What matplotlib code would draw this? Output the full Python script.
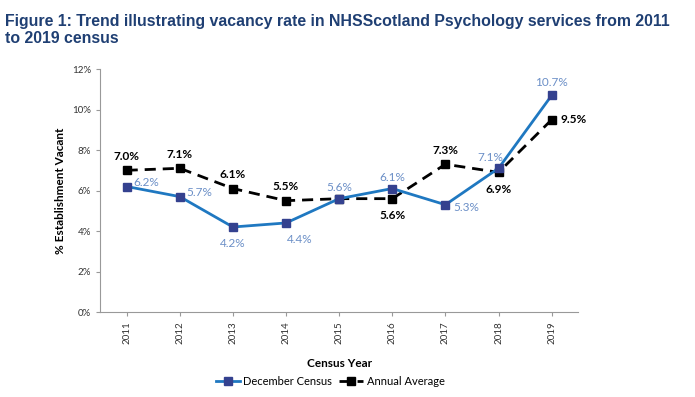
import matplotlib.pyplot as plt
import numpy as np

years = ['2011', '2012', '2013', '2014', '2015', '2016', '2017', '2018', '2019']
december = [6.2, 5.7, 4.2, 4.4, 5.6, 6.1, 5.3, 7.1, 10.7]
annual = [7.0, 7.1, 6.1, 5.5, 5.6, 5.6, 7.3, 6.9, 9.5]
yticks = [0, 2, 4, 6, 8, 10, 12]

# label offsets in points (None = no label shown)
dec_off = [(14, 3), (14, 3), (0, -12), (10, -12), (0, 8), (0, 8), (15, -2), (-6, 8), (0, 9)]
ann_off = [(0, 10), (0, 10), (0, 10), (0, 10), None, (0, -12), (0, 10), (0, -12), (16, 0)]

plt.rcParams['font.family'] = ['Lato', 'DejaVu Sans']

fig = plt.figure(figsize=(6.95, 3.97), dpi=100)
ax = fig.add_axes([0.144, 0.214, 0.688, 0.612])

x = np.arange(len(years))
ax.plot(x, december, color='#1F78C1', lw=2, marker='s', ms=5.5,
        mfc='#34418F', mec='#34418F', label='December Census', zorder=3)
ax.plot(x, annual, color='black', lw=2, ls=(0, (4, 2.5)), marker='s', ms=5.5,
        mfc='black', mec='black', label='Annual Average', zorder=2)

for i, v in enumerate(december):
    if dec_off[i] is None:
        continue
    ax.annotate(f'{v:.1f}%', (i, v), xytext=dec_off[i], textcoords='offset points',
                ha='center', va='center', fontsize=8.5, color='#6B8FC7')
for i, v in enumerate(annual):
    if ann_off[i] is None:
        continue
    ax.annotate(f'{v:.1f}%', (i, v), xytext=ann_off[i], textcoords='offset points',
                ha='center', va='center', fontsize=8.5, color='black', fontweight='bold')

ax.set_xlim(-0.5, len(years) - 0.5)
ax.set_ylim(0, 12)
ax.set_yticks(yticks)
ax.set_yticklabels([f'{t}%' for t in yticks], fontsize=7, color='#333333')
ax.set_xticks(x)
ax.set_xticklabels(years, rotation=90, fontsize=7, color='#333333')
ax.tick_params(axis='both', color='#999999', length=3, width=0.8)
for s in ['top', 'right']:
    ax.spines[s].set_visible(False)
for s in ['left', 'bottom']:
    ax.spines[s].set_color('#999999')
    ax.spines[s].set_linewidth(0.8)

ax.set_xlabel('Census Year', fontsize=8.5, fontweight='bold', labelpad=10)
ax.set_ylabel('% Establishment Vacant', fontsize=8.5, fontweight='bold', labelpad=4)

fig.legend(loc='center', bbox_to_anchor=(0.475, 0.04), ncol=2, frameon=False,
           fontsize=8, handlelength=2.2, columnspacing=0.6, handletextpad=0.3)

fig.text(0.007, 0.965, 'Figure 1: Trend illustrating vacancy rate in NHSScotland Psychology services from 2011\nto 2019 census',
         fontsize=11.4, fontweight='bold', color='#1F3F73', va='top', ha='left',
         family=['Liberation Sans'], linespacing=1.2)

fig.savefig('out.png', dpi=100)
